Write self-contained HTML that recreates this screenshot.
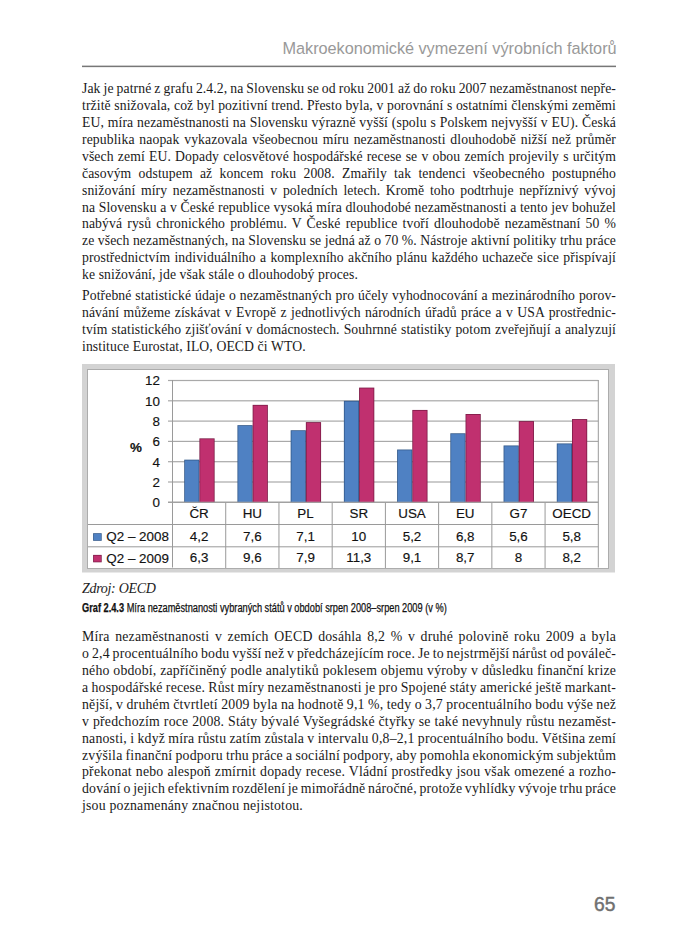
<!DOCTYPE html>
<html><head><meta charset="utf-8"><title>Makroekonomické vymezení výrobních faktorů</title>
<style>
html,body{margin:0;padding:0;background:#fff;}
body{width:700px;height:949px;position:relative;overflow:hidden;}
.ln{position:absolute;left:82.0px;white-space:pre;font-family:"Liberation Serif", serif;line-height:1;color:#1a1a1a;}
.ch{position:absolute;left:0;top:0;}
.ct{font-family:"Liberation Sans", sans-serif;font-size:13.4px;fill:#111;stroke:#111;stroke-width:0.15px;}
.hdr{position:absolute;left:282.5px;top:40px;font-family:"Liberation Sans", sans-serif;font-size:16.3px;line-height:1;color:#999;letter-spacing:-0.04px;white-space:pre;}
.rule{position:absolute;left:82px;top:65px;width:534px;height:3px;background:linear-gradient(to bottom,#cbcbcb 0,#cbcbcb 1px,#777 1px,#777 2px,#ececec 2px,#ececec 3px);}
.src{position:absolute;left:82px;font-family:"Liberation Serif", serif;font-style:italic;font-size:14px;letter-spacing:-0.3px;line-height:1;color:#222;white-space:pre;}
.cap{position:absolute;left:82px;font-family:"Liberation Sans", sans-serif;font-size:12px;line-height:1;color:#111;white-space:pre;transform-origin:0 0;-webkit-text-stroke:0.25px #111;}
.pg{position:absolute;left:594px;font-family:"Liberation Sans", sans-serif;font-weight:normal;-webkit-text-stroke:0.45px #707070;font-size:19.3px;line-height:1;color:#707070;}
</style></head><body>
<div class="hdr">Makroekonomické vymezení výrobních faktorů</div>
<div class="rule"></div>
<div class="ln" style="top:82.00px;font-size:13.7px;letter-spacing:0.1px;word-spacing:-0.540px;">Jak je patrné z grafu 2.4.2, na Slovensku se od roku 2001 až do roku 2007 nezaměstnanost nepře-</div>
<div class="ln" style="top:99.00px;font-size:13.7px;letter-spacing:0.1px;word-spacing:0.044px;">tržitě snižovala, což byl pozitivní trend. Přesto byla, v porovnání s ostatními členskými zeměmi</div>
<div class="ln" style="top:116.00px;font-size:13.7px;letter-spacing:0.1px;word-spacing:0.293px;">EU, míra nezaměstnanosti na Slovensku výrazně vyšší (spolu s Polskem nejvyšší v EU). Česká</div>
<div class="ln" style="top:133.00px;font-size:13.7px;letter-spacing:0.1px;word-spacing:1.226px;">republika naopak vykazovala všeobecnou míru nezaměstnanosti dlouhodobě nižší než průměr</div>
<div class="ln" style="top:150.00px;font-size:13.7px;letter-spacing:0.1px;word-spacing:0.629px;">všech zemí EU. Dopady celosvětové hospodářské recese se v obou zemích projevily s určitým</div>
<div class="ln" style="top:167.00px;font-size:13.7px;letter-spacing:0.1px;word-spacing:3.745px;">časovým odstupem až koncem roku 2008. Zmařily tak tendenci všeobecného postupného</div>
<div class="ln" style="top:184.00px;font-size:13.7px;letter-spacing:0.1px;word-spacing:2.078px;">snižování míry nezaměstnanosti v poledních letech. Kromě toho podtrhuje nepříznivý vývoj</div>
<div class="ln" style="top:201.00px;font-size:13.7px;letter-spacing:0.1px;word-spacing:0.055px;">na Slovensku a v České republice vysoká míra dlouhodobé nezaměstnanosti a tento jev bohužel</div>
<div class="ln" style="top:217.00px;font-size:13.7px;letter-spacing:0.1px;word-spacing:1.574px;">nabývá rysů chronického problému. V České republice tvoří dlouhodobě nezaměstnaní 50 %</div>
<div class="ln" style="top:234.00px;font-size:13.7px;letter-spacing:0.1px;word-spacing:-0.071px;">ze všech nezaměstnaných, na Slovensku se jedná až o 70 %. Nástroje aktivní politiky trhu práce</div>
<div class="ln" style="top:251.00px;font-size:13.7px;letter-spacing:0.1px;word-spacing:0.757px;">prostřednictvím individuálního a komplexního akčního plánu každého uchazeče sice přispívají</div>
<div class="ln" style="top:268.00px;font-size:13.7px;letter-spacing:0.1px;">ke snižování, jde však stále o dlouhodobý proces.</div>
<div class="ln" style="top:289.00px;font-size:13.7px;letter-spacing:0.1px;word-spacing:0.352px;">Potřebné statistické údaje o nezaměstnaných pro účely vyhodnocování a mezinárodního porov-</div>
<div class="ln" style="top:306.00px;font-size:13.7px;letter-spacing:0.1px;word-spacing:0.834px;">návání můžeme získávat v Evropě z jednotlivých národních úřadů práce a v USA prostřednic-</div>
<div class="ln" style="top:323.00px;font-size:13.7px;letter-spacing:0.1px;word-spacing:0.519px;">tvím statistického zjišťování v domácnostech. Souhrnné statistiky potom zveřejňují a analyzují</div>
<div class="ln" style="top:340.00px;font-size:13.7px;letter-spacing:0.1px;">instituce Eurostat, ILO, OECD či WTO.</div>
<div class="ln" style="top:630.00px;font-size:13.8px;letter-spacing:0.2px;word-spacing:1.919px;">Míra nezaměstnanosti v zemích OECD dosáhla 8,2 % v druhé polovině roku 2009 a byla</div>
<div class="ln" style="top:647.00px;font-size:13.8px;letter-spacing:0.2px;word-spacing:-0.810px;">o 2,4 procentuálního bodu vyšší než v předcházejícím roce. Je to nejstrmější nárůst od pováleč-</div>
<div class="ln" style="top:664.00px;font-size:13.8px;letter-spacing:0.2px;word-spacing:0.052px;">ného období, zapříčiněný podle analytiků poklesem objemu výroby v důsledku finanční krize</div>
<div class="ln" style="top:681.00px;font-size:13.8px;letter-spacing:0.2px;word-spacing:-0.477px;">a hospodářské recese. Růst míry nezaměstnanosti je pro Spojené státy americké ještě markant-</div>
<div class="ln" style="top:698.00px;font-size:13.8px;letter-spacing:0.2px;word-spacing:-0.302px;">nější, v druhém čtvrtletí 2009 byla na hodnotě 9,1 %, tedy o 3,7 procentuálního bodu výše než</div>
<div class="ln" style="top:715.00px;font-size:13.8px;letter-spacing:0.2px;word-spacing:0.166px;">v předchozím roce 2008. Státy bývalé Vyšegrádské čtyřky se také nevyhnuly růstu nezaměst-</div>
<div class="ln" style="top:732.00px;font-size:13.8px;letter-spacing:0.2px;word-spacing:-0.397px;">nanosti, i když míra růstu zatím zůstala v intervalu 0,8–2,1 procentuálního bodu. Většina zemí</div>
<div class="ln" style="top:749.00px;font-size:13.8px;letter-spacing:0.2px;word-spacing:-0.563px;">zvýšila finanční podporu trhu práce a sociální podpory, aby pomohla ekonomickým subjektům</div>
<div class="ln" style="top:765.00px;font-size:13.8px;letter-spacing:0.2px;word-spacing:0.295px;">překonat nebo alespoň zmírnit dopady recese. Vládní prostředky jsou však omezené a rozho-</div>
<div class="ln" style="top:782.00px;font-size:13.8px;letter-spacing:0.2px;word-spacing:-1.005px;">dování o jejich efektivním rozdělení je mimořádně náročné, protože vyhlídky vývoje trhu práce</div>
<div class="ln" style="top:799.00px;font-size:13.8px;letter-spacing:0.2px;">jsou poznamenány značnou nejistotou.</div>
<svg class="ch" width="700" height="949" viewBox="0 0 700 949"><rect x="82" y="364" width="533" height="208.5" fill="#d3d3d3"/>
<rect x="87" y="369" width="522" height="200" fill="#acacac"/>
<rect x="88" y="370" width="520" height="198" fill="#ffffff"/>
<rect x="168" y="501.70" width="430.30" height="1.2" fill="#a9a9a9"/>
<rect x="168" y="481.40" width="430.30" height="1.2" fill="#a9a9a9"/>
<rect x="168" y="461.10" width="430.30" height="1.2" fill="#a9a9a9"/>
<rect x="168" y="440.80" width="430.30" height="1.2" fill="#a9a9a9"/>
<rect x="168" y="420.50" width="430.30" height="1.2" fill="#a9a9a9"/>
<rect x="168" y="400.20" width="430.30" height="1.2" fill="#a9a9a9"/>
<rect x="168" y="379.90" width="430.30" height="1.2" fill="#a9a9a9"/>
<rect x="172.00" y="380.00" width="1" height="187.50" fill="#9a9a9a"/>
<rect x="597.80" y="380.00" width="1" height="187.50" fill="#9a9a9a"/>
<rect x="184.21" y="459.67" width="15.21" height="42.63" fill="#33598a"/>
<rect x="185.01" y="460.47" width="13.61" height="41.83" fill="#4f81c3"/>
<rect x="199.41" y="438.36" width="15.21" height="63.95" fill="#7c1c47"/>
<rect x="200.21" y="439.16" width="13.61" height="63.15" fill="#c0306f"/>
<rect x="237.43" y="425.16" width="15.21" height="77.14" fill="#33598a"/>
<rect x="238.23" y="425.96" width="13.61" height="76.34" fill="#4f81c3"/>
<rect x="252.64" y="404.86" width="15.21" height="97.44" fill="#7c1c47"/>
<rect x="253.44" y="405.66" width="13.61" height="96.64" fill="#c0306f"/>
<rect x="290.66" y="430.24" width="15.21" height="72.06" fill="#33598a"/>
<rect x="291.46" y="431.04" width="13.61" height="71.27" fill="#4f81c3"/>
<rect x="305.86" y="422.12" width="15.21" height="80.19" fill="#7c1c47"/>
<rect x="306.66" y="422.92" width="13.61" height="79.39" fill="#c0306f"/>
<rect x="343.88" y="400.80" width="15.21" height="101.50" fill="#33598a"/>
<rect x="344.68" y="401.60" width="13.61" height="100.70" fill="#4f81c3"/>
<rect x="359.09" y="387.61" width="15.21" height="114.70" fill="#7c1c47"/>
<rect x="359.89" y="388.41" width="13.61" height="113.90" fill="#c0306f"/>
<rect x="397.11" y="449.52" width="15.21" height="52.78" fill="#33598a"/>
<rect x="397.91" y="450.32" width="13.61" height="51.98" fill="#4f81c3"/>
<rect x="412.31" y="409.94" width="15.21" height="92.36" fill="#7c1c47"/>
<rect x="413.11" y="410.74" width="13.61" height="91.56" fill="#c0306f"/>
<rect x="450.33" y="433.28" width="15.21" height="69.02" fill="#33598a"/>
<rect x="451.13" y="434.08" width="13.61" height="68.22" fill="#4f81c3"/>
<rect x="465.54" y="414.00" width="15.21" height="88.30" fill="#7c1c47"/>
<rect x="466.34" y="414.80" width="13.61" height="87.50" fill="#c0306f"/>
<rect x="503.56" y="445.46" width="15.21" height="56.84" fill="#33598a"/>
<rect x="504.36" y="446.26" width="13.61" height="56.04" fill="#4f81c3"/>
<rect x="518.76" y="421.10" width="15.21" height="81.20" fill="#7c1c47"/>
<rect x="519.56" y="421.90" width="13.61" height="80.40" fill="#c0306f"/>
<rect x="556.78" y="443.43" width="15.21" height="58.87" fill="#33598a"/>
<rect x="557.58" y="444.23" width="13.61" height="58.07" fill="#4f81c3"/>
<rect x="571.99" y="419.07" width="15.21" height="83.23" fill="#7c1c47"/>
<rect x="572.79" y="419.87" width="13.61" height="82.43" fill="#c0306f"/>
<rect x="88" y="524" width="510.30" height="1" fill="#9a9a9a"/>
<rect x="88" y="546.3" width="510.30" height="1" fill="#9a9a9a"/>
<rect x="225.22" y="502.30" width="1" height="65.70" fill="#9a9a9a"/>
<rect x="278.45" y="502.30" width="1" height="65.70" fill="#9a9a9a"/>
<rect x="331.67" y="502.30" width="1" height="65.70" fill="#9a9a9a"/>
<rect x="384.90" y="502.30" width="1" height="65.70" fill="#9a9a9a"/>
<rect x="438.12" y="502.30" width="1" height="65.70" fill="#9a9a9a"/>
<rect x="491.35" y="502.30" width="1" height="65.70" fill="#9a9a9a"/>
<rect x="544.57" y="502.30" width="1" height="65.70" fill="#9a9a9a"/>
<rect x="168" y="501.70" width="430.30" height="1.2" fill="#a0a0a0"/>
<text x="160" y="507.10" text-anchor="end" class="ct">0</text>
<text x="160" y="486.80" text-anchor="end" class="ct">2</text>
<text x="160" y="466.50" text-anchor="end" class="ct">4</text>
<text x="160" y="446.20" text-anchor="end" class="ct">6</text>
<text x="160" y="425.90" text-anchor="end" class="ct">8</text>
<text x="160" y="405.60" text-anchor="end" class="ct">10</text>
<text x="160" y="385.30" text-anchor="end" class="ct">12</text>
<text x="130" y="452" class="ct" font-weight="bold">%</text>
<text x="199.11" y="517.6" text-anchor="middle" class="ct">ČR</text>
<text x="199.11" y="541.2" text-anchor="middle" class="ct">4,2</text>
<text x="199.11" y="562.4" text-anchor="middle" class="ct">6,3</text>
<text x="252.34" y="517.6" text-anchor="middle" class="ct">HU</text>
<text x="252.34" y="541.2" text-anchor="middle" class="ct">7,6</text>
<text x="252.34" y="562.4" text-anchor="middle" class="ct">9,6</text>
<text x="305.56" y="517.6" text-anchor="middle" class="ct">PL</text>
<text x="305.56" y="541.2" text-anchor="middle" class="ct">7,1</text>
<text x="305.56" y="562.4" text-anchor="middle" class="ct">7,9</text>
<text x="358.79" y="517.6" text-anchor="middle" class="ct">SR</text>
<text x="358.79" y="541.2" text-anchor="middle" class="ct">10</text>
<text x="358.79" y="562.4" text-anchor="middle" class="ct">11,3</text>
<text x="412.01" y="517.6" text-anchor="middle" class="ct">USA</text>
<text x="412.01" y="541.2" text-anchor="middle" class="ct">5,2</text>
<text x="412.01" y="562.4" text-anchor="middle" class="ct">9,1</text>
<text x="465.24" y="517.6" text-anchor="middle" class="ct">EU</text>
<text x="465.24" y="541.2" text-anchor="middle" class="ct">6,8</text>
<text x="465.24" y="562.4" text-anchor="middle" class="ct">8,7</text>
<text x="518.46" y="517.6" text-anchor="middle" class="ct">G7</text>
<text x="518.46" y="541.2" text-anchor="middle" class="ct">5,6</text>
<text x="518.46" y="562.4" text-anchor="middle" class="ct">8</text>
<text x="571.69" y="517.6" text-anchor="middle" class="ct">OECD</text>
<text x="571.69" y="541.2" text-anchor="middle" class="ct">5,8</text>
<text x="571.69" y="562.4" text-anchor="middle" class="ct">8,2</text>
<rect x="93.1" y="533.2" width="8.6" height="7.6" fill="#33598a"/>
<rect x="93.8" y="533.9" width="7.2" height="6.2" fill="#4f81c3"/>
<rect x="93.1" y="554.9" width="8.6" height="7.4" fill="#7c1c47"/>
<rect x="93.8" y="555.6" width="7.2" height="6.0" fill="#c0306f"/>
<text x="106.3" y="541.4" class="ct">Q2 – 2008</text>
<text x="106.3" y="562.6" class="ct">Q2 – 2009</text></svg>
<div class="src" style="top:582px">Zdroj: OECD</div>
<div class="cap" style="top:602px;transform:scaleX(0.769)"><b>Graf 2.4.3</b> Míra nezaměstnanosti vybraných států v období srpen 2008–srpen 2009 (v %)</div>
<div class="pg" style="top:895px">65</div>
</body></html>
